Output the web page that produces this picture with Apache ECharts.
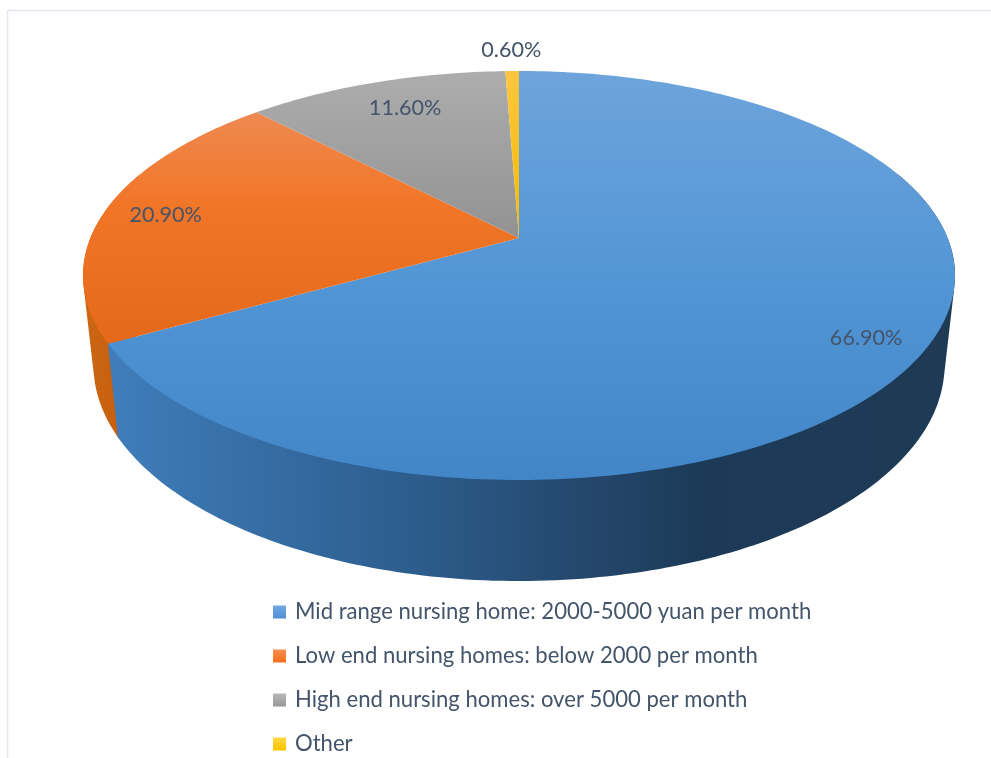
<!DOCTYPE html>
<html>
<head>
<meta charset="utf-8">
<style>html,body{margin:0;padding:0;background:#fff}#c{width:991px;height:758px}</style>
<script src="https://cdn.jsdelivr.net/npm/echarts@6/dist/echarts.min.js"></script>
</head>
<body>
<div id="c"></div>
<script>
// ---- data ----
const categories = [
  'Mid range nursing home: 2000-5000 yuan per month',
  'Low end nursing homes: below 2000 per month',
  'High end nursing homes: over 5000 per month',
  'Other'
];
const values = [66.9, 20.9, 11.6, 0.6];
const valueLabels = ['66.90%', '20.90%', '11.60%', '0.60%'];
// placement of each value label: fraction of the radius, and shift from the slice's mid angle
const labelRadius = [0.874, 0.85, 0.805, 1.153];
const labelShift = [1.6, -0.6, 1.0, 0];

// ---- appearance ----
const topStops = [
  [[0, '#6ea4db'], [0.5, '#5396d6'], [1, '#4386c8']],
  [[0, '#f09562'], [0.1, '#ee8a52'], [0.32, '#f27628'], [0.66, '#e5691b'], [1, '#e0661a']],
  [[0, '#adadad'], [0.41, '#929292'], [1, '#8a8a8a']],
  [[0, '#ffc540'], [0.41, '#f7bb00'], [1, '#f7bb00']]
];
const legendStops = [
  [[0, '#70a9e4'], [1, '#4f90d4']],
  [[0, '#fb8e50'], [1, '#f56f16']],
  [[0, '#b8b8b8'], [1, '#989898']],
  [[0, '#ffd740'], [1, '#fcc400']]
];
const sideStops = [
  [[0, '#3f7cb9'], [0.3, '#2f6294'], [0.5, '#274d75'], [0.7, '#1c3a57'], [1, '#1e3a55']],
  [[0, '#cb6712'], [1, '#c65f0e']],
  null, null
];
const TEXT = '#44546a';

// projective view of the disc
const CX = 519, CY = 238, A = 428.6, B = 197.6, K = 0.1834;
const TOP = 71, BOTTOM = 480;
const LOWER = { sx: 0.976, sy: 1.056, y0: 325.5 };
const LEFT_EDGE = 83, RIGHT_EDGE = 955;

function project(deg, t) {
  const r = deg * Math.PI / 180;
  const u = t * Math.sin(r), v = -t * Math.cos(r);
  const d = 1 - K * v;
  return [CX + A * u / d, CY + B * v / d];
}
function lower(p) {
  return [CX + LOWER.sx * (p[0] - CX), LOWER.y0 + LOWER.sy * (p[1] - CY)];
}
function rim(a, b) {
  const pts = [], n = Math.max(2, Math.ceil(Math.abs(b - a)));
  for (let i = 0; i <= n; i++) pts.push(project(a + (b - a) * i / n, 1));
  return pts;
}
function hull(points) {
  const p = points.slice().sort((a, b) => a[0] - b[0] || a[1] - b[1]);
  const cross = (o, a, b) => (a[0] - o[0]) * (b[1] - o[1]) - (a[1] - o[1]) * (b[0] - o[0]);
  const build = list => {
    const out = [];
    list.forEach(q => {
      while (out.length >= 2 && cross(out[out.length - 2], out[out.length - 1], q) <= 0) out.pop();
      out.push(q);
    });
    out.pop();
    return out;
  };
  return build(p).concat(build(p.slice().reverse()));
}
function stops(list) { return list.map(s => ({ offset: s[0], color: s[1] })); }

const total = values.reduce((s, x) => s + x, 0);
const startAngles = [];
values.reduce((acc, x, i) => { startAngles[i] = acc / total * 360; return acc + x; }, 0);

function angles(i) { return [startAngles[i], startAngles[i] + values[i] / total * 360]; }

function renderSide(i) {
  return function () {
    const [a, b] = angles(i);
    const from = Math.max(a, 70), to = Math.min(b, 290);
    if (!sideStops[i] || to <= from) return { type: 'group', children: [] };
    const upper = rim(from, to);
    const pts = hull(upper.concat(upper.map(lower)));
    return {
      type: 'polygon', silent: true, shape: { points: pts },
      style: { fill: { type: 'linear', global: true, x: i === 0 ? 118 : LEFT_EDGE, y: 0, x2: i === 0 ? RIGHT_EDGE : 120, y2: 0, colorStops: stops(sideStops[i]) } }
    };
  };
}
function renderTop(i) {
  return function () {
    const [a, b] = angles(i);
    const pts = [[CX, CY]].concat(rim(a, b));
    return {
      type: 'polygon', silent: true, shape: { points: pts },
      style: { fill: { type: 'linear', global: true, x: 0, y: TOP, x2: 0, y2: BOTTOM, colorStops: stops(topStops[i]) } }
    };
  };
}
function renderLabel(i) {
  return function () {
    const [a, b] = angles(i);
    const p = project((a + b) / 2 + labelShift[i], labelRadius[i]);
    return {
      type: 'text', silent: true, x: p[0], y: p[1],
      style: { text: valueLabels[i], fill: TEXT, font: '21.6px Lato, sans-serif', align: 'center', verticalAlign: 'middle' }
    };
  };
}

const series = [];
// later sides paint over earlier ones: the large slice's side goes last
for (let i = values.length - 1; i >= 0; i--) series.push({
  type: 'custom', name: 'side-' + i, coordinateSystem: 'none', z: 1, silent: true, animation: false,
  data: [[values[i]]], renderItem: renderSide(i), itemStyle: { color: '#000' }
});
values.forEach((x, i) => series.push({
  type: 'custom', name: categories[i], coordinateSystem: 'none', z: 2, silent: true, animation: false,
  data: [[x]], renderItem: renderTop(i),
  itemStyle: { color: { type: 'linear', x: 0, y: 0, x2: 0, y2: 1, colorStops: stops(legendStops[i]) } }
}));
values.forEach((x, i) => series.push({
  type: 'custom', name: 'label-' + i, coordinateSystem: 'none', z: 3, silent: true, animation: false,
  data: [[x]], renderItem: renderLabel(i), itemStyle: { color: '#000' }
}));

const chart = echarts.init(document.getElementById('c'), null, { renderer: 'canvas' });
chart.setOption({
  animation: false,
  backgroundColor: '#ffffff',
  tooltip: { show: false },
  legend: {
    data: categories, orient: 'vertical', left: 273, top: 600,
    itemWidth: 13, itemHeight: 13, itemGap: 20, icon: 'rect', selectedMode: false,
    padding: 0,
    textStyle: { color: TEXT, fontFamily: 'Lato, sans-serif', fontSize: 22.1, lineHeight: 24, padding: [0, 0, 0, 4] }
  },
  graphic: [
    { type: 'line', silent: true, shape: { x1: 7.5, y1: 10.5, x2: 991, y2: 10.5 }, style: { stroke: '#e3e7f0', lineWidth: 1.5 } },
    { type: 'line', silent: true, shape: { x1: 7.5, y1: 10.5, x2: 7.5, y2: 758 }, style: { stroke: '#e3e7f0', lineWidth: 1.5 } }
  ],
  series: series
});
</script>
</body>
</html>
